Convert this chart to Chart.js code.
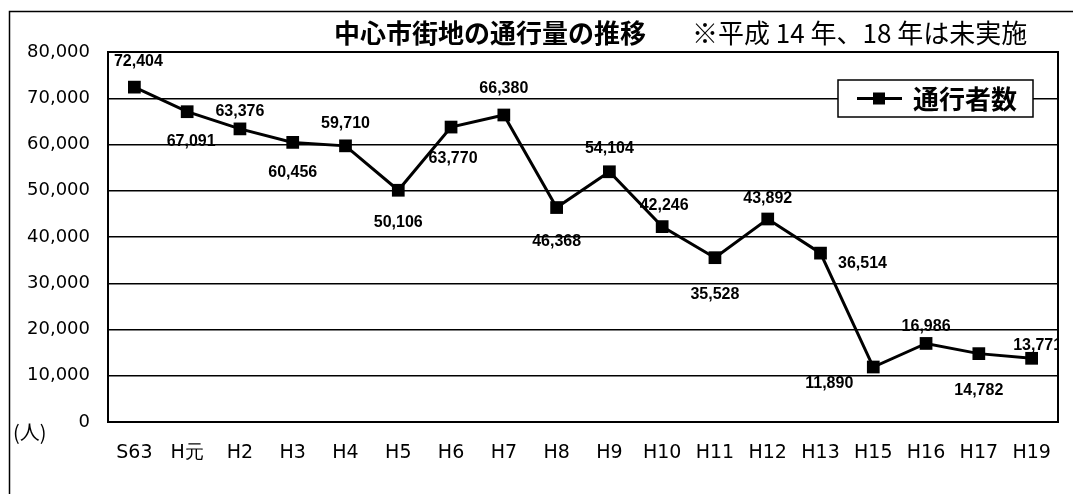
<!DOCTYPE html>
<html>
<head>
<meta charset="utf-8">
<script src="https://cdn.jsdelivr.net/npm/chart.js@4/dist/chart.umd.min.js"></script>
<style>
    html, body { margin: 0; background: #fff; }
    #wrap { width: 1073px; height: 494px; position: relative; }
</style>
</head>
<body>
<div id="wrap"><canvas id="trafficChart"></canvas></div>
<script>
// 年度（平成14年・18年は未実施）
const years = ['S63', 'H元', 'H2', 'H3', 'H4', 'H5', 'H6', 'H7', 'H8', 'H9',
               'H10', 'H11', 'H12', 'H13', 'H15', 'H16', 'H17', 'H19'];

// 通行者数
const passersby = [72404, 67091, 63376, 60456, 59710, 50106, 63770, 66380, 46368, 54104,
                   42246, 35528, 43892, 36514, 11890, 16986, 14782, 13771];

const seriesName = '通行者数';
const chartTitle = '中心市街地の通行量の推移';
const chartNote = '※平成 14 年、18 年は未実施';
const unitLabel = '(人)';

// ラベルの位置（点からのずれ）
const labelOffsets = [
    [4, -26], [4, 30], [0, -17], [0, 30], [0, -22], [0, 32], [2, 32], [0, -26], [0, 34],
    [0, -23], [2, -21], [0, 37], [0, -20], [42, 10], [-44, 17], [0, -17], [0, 37], [6, -13]
];

const fmt = v => v.toLocaleString('en-US');

// 枠・タイトル
const framePlugin = {
    id: 'frame',
    beforeDraw(chart) {
        const ctx = chart.ctx;
        ctx.save();
        ctx.fillStyle = '#fff';
        ctx.fillRect(0, 0, chart.width, chart.height);
        ctx.strokeStyle = '#000';
        ctx.lineWidth = 1.5;
        ctx.beginPath();
        ctx.moveTo(9.5, chart.height);
        ctx.lineTo(9.5, 11.5);
        ctx.lineTo(chart.width, 11.5);
        ctx.stroke();

        ctx.fillStyle = '#000';
        ctx.textBaseline = 'middle';
        ctx.textAlign = 'center';
        ctx.font = 'bold 26px "Noto Sans CJK JP"';
        ctx.fillText(chartTitle, 490, 33);
        ctx.textAlign = 'left';
        ctx.font = '26px "Noto Sans CJK JP"';
        ctx.fillText(chartNote, 692, 33);

        ctx.font = '20px "Noto Sans CJK JP"';
        ctx.fillText(unitLabel, 13, 432);
        ctx.restore();
    },
    beforeDatasetsDraw(chart) {
        const { ctx, chartArea: a } = chart;
        ctx.save();
        ctx.strokeStyle = '#000';
        ctx.lineWidth = 2;
        ctx.strokeRect(a.left, a.top, a.right - a.left, a.bottom - a.top);
        ctx.restore();
    }
};

// データラベル
const valueLabels = {
    id: 'valueLabels',
    afterDatasetsDraw(chart) {
        const { ctx, chartArea: a } = chart;
        const meta = chart.getDatasetMeta(0);
        ctx.save();
        ctx.beginPath();
        ctx.rect(a.left, a.top, a.right - a.left, a.bottom - a.top);
        ctx.clip();
        ctx.fillStyle = '#000';
        ctx.font = 'bold 16px "Liberation Sans", Arial';
        ctx.textAlign = 'center';
        ctx.textBaseline = 'middle';
        meta.data.forEach((pt, i) => {
            const [dx, dy] = labelOffsets[i];
            ctx.fillText(fmt(passersby[i]), pt.x + dx, pt.y + dy);
        });
        ctx.restore();
    }
};

// 凡例（グラフ内の枠）
const boxLegend = {
    id: 'boxLegend',
    afterDraw(chart) {
        const ctx = chart.ctx;
        const ds = chart.data.datasets[0];
        const x = 838, y = 80, w = 195, h = 37;
        ctx.save();
        ctx.fillStyle = '#fff';
        ctx.fillRect(x, y, w, h);
        ctx.strokeStyle = '#000';
        ctx.lineWidth = 1.5;
        ctx.strokeRect(x, y, w, h);
        const cy = y + h / 2;
        ctx.lineWidth = ds.borderWidth;
        ctx.beginPath();
        ctx.moveTo(x + 19, cy);
        ctx.lineTo(x + 64, cy);
        ctx.stroke();
        ctx.fillStyle = ds.pointBackgroundColor;
        ctx.fillRect(x + 35, cy - 6, 12, 12);
        ctx.font = 'bold 26px "Noto Sans CJK JP"';
        ctx.textAlign = 'left';
        ctx.textBaseline = 'middle';
        ctx.fillText(ds.label, x + 75, cy + 1);
        ctx.restore();
    }
};

document.addEventListener('DOMContentLoaded', function() {
    const ctx = document.getElementById('trafficChart');

    new Chart(ctx, {
        type: 'line',
        data: {
            labels: years,
            datasets: [{
                label: seriesName,
                data: passersby,
                borderColor: '#000',
                backgroundColor: '#000',
                pointBackgroundColor: '#000',
                pointBorderColor: '#000',
                borderWidth: 3,
                pointStyle: 'rect',
                pointRadius: 9,
                pointBorderWidth: 0,
                tension: 0,
                fill: false
            }]
        },
        options: {
            responsive: true,
            maintainAspectRatio: false,
            animation: false,
            layout: { padding: { top: 52, right: 15, left: 0, bottom: 0 } },
            plugins: {
                legend: { display: false },
                tooltip: { enabled: false }
            },
            scales: {
                x: {
                    offset: true,
                    grid: { display: false, drawTicks: false },
                    border: { color: '#000', width: 2 },
                    ticks: {
                        color: '#000',
                        padding: 20,
                        maxRotation: 0,
                        autoSkip: false,
                        font: { family: 'DejaVu Sans', size: 19 }
                    },
                    afterFit(scale) { scale.height = 72; }
                },
                y: {
                    min: 0,
                    max: 80000,
                    grid: { color: '#000', lineWidth: 1.5, drawTicks: false },
                    border: { color: '#000', width: 2 },
                    ticks: {
                        stepSize: 10000,
                        color: '#000',
                        padding: 18,
                        font: { family: 'DejaVu Sans', size: 18 },
                        callback: v => fmt(v)
                    },
                    afterFit(scale) { scale.width = 108; }
                }
            }
        },
        plugins: [framePlugin, valueLabels, boxLegend]
    });
});
</script>
</body>
</html>
